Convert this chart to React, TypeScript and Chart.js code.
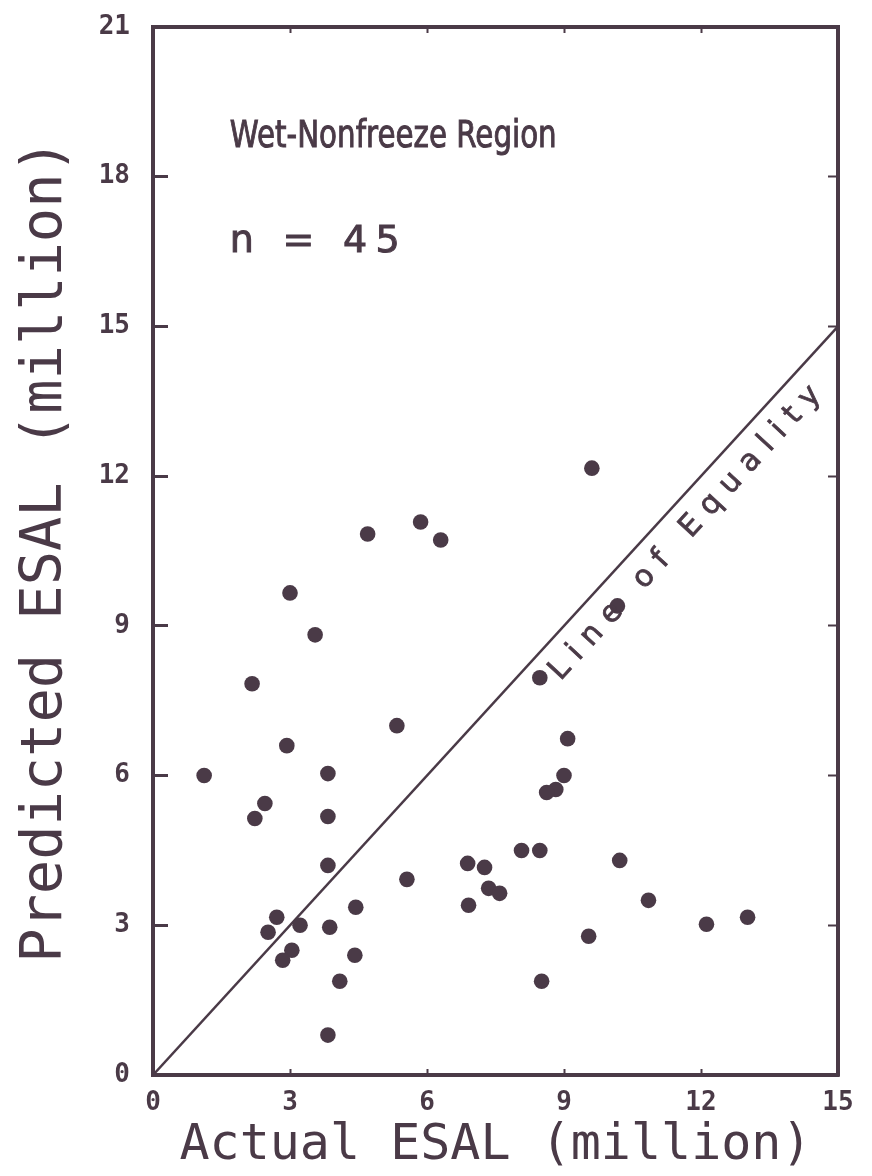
import React, { useEffect, useRef } from "react";
import { Chart, registerables } from "chart.js";

Chart.register(...registerables);

// ---- Data ----
const ACTUAL_ESAL = [
  1.12, 2.17, 2.23, 2.45, 2.93, 3.0, 3.55, 3.83, 3.83, 3.83,
  5.34, 4.7, 5.86, 6.3, 9.61, 10.17, 5.56, 4.44, 2.71, 3.22,
  3.87, 2.52, 3.04, 2.84, 4.42, 4.09, 3.83, 8.47, 9.08, 9.0,
  8.82, 8.62, 8.07, 8.47, 10.22, 6.89, 7.26, 7.35, 7.59, 6.91,
  10.85, 9.54, 12.12, 13.02, 8.51,
];
const PREDICTED_ESAL = [
  6.0, 7.84, 5.14, 5.44, 6.6, 9.66, 8.82, 6.04, 5.18, 4.2,
  7.0, 10.84, 11.08, 10.72, 12.16, 9.4, 3.92, 3.36, 3.16, 3.0,
  2.96, 2.86, 2.5, 2.3, 2.4, 1.88, 0.8, 7.96, 6.74, 6.0,
  5.72, 5.66, 4.5, 4.5, 4.3, 4.24, 4.16, 3.74, 3.64, 3.4,
  3.5, 2.78, 3.02, 3.16, 1.88,
];
const EQUALITY_LINE = [0, 15];
const X_TICKS = [0, 3, 6, 9, 12, 15];
const Y_TICKS = [0, 3, 6, 9, 12, 15, 18, 21];

const X_TITLE = "Actual ESAL (million)";
const Y_TITLE = "Predicted ESAL (million)";
const REGION_LABEL = "Wet-Nonfreeze Region";
const N_LABEL = "n = 45";
const LINE_LABEL = "Line of Equality";

const INK = "#4a3a47";
const MONO = '"DejaVu Sans Mono", monospace';

function drawScaled(ctx: CanvasRenderingContext2D, text: string, x: number, y: number, font: string, width: number) {
  ctx.save();
  ctx.font = font;
  ctx.textAlign = "left";
  ctx.textBaseline = "alphabetic";
  const w = ctx.measureText(text).width;
  ctx.translate(x, y);
  ctx.scale(width / w, 1);
  ctx.fillText(text, 0, 0);
  ctx.lineWidth = 1;
  ctx.strokeStyle = INK;
  ctx.strokeText(text, 0, 0);
  ctx.restore();
}

function setSpacing(ctx: any, text: string, width: number) {
  ctx.letterSpacing = "0px";
  const w = ctx.measureText(text).width;
  const ls = (width - w) / Math.max(1, text.length - 1);
  ctx.letterSpacing = ls + "px";
}

const annotationPlugin = {
  id: "esalAnnotations",
  afterDatasetsDraw(chart: any) {
    const { ctx } = chart;
    const x = chart.scales.x;
    const y = chart.scales.y;
    ctx.save();
    ctx.fillStyle = INK;
    ctx.strokeStyle = INK;

    drawScaled(ctx, REGION_LABEL, x.getPixelForValue(1.68), y.getPixelForValue(18.6), '37px "DejaVu Sans"', 327);

    ctx.save();
    ctx.font = '38px "DejaVu Sans"';
    ctx.textAlign = "left";
    ctx.textBaseline = "alphabetic";
    setSpacing(ctx, N_LABEL, 170);
    ctx.fillText(N_LABEL, x.getPixelForValue(1.68), y.getPixelForValue(16.5));
    ctx.lineWidth = 1;
    ctx.strokeText(N_LABEL, x.getPixelForValue(1.68), y.getPixelForValue(16.5));
    ctx.restore();

    const ax = x.getPixelForValue(EQUALITY_LINE[0]);
    const ay = y.getPixelForValue(EQUALITY_LINE[0]);
    const bx = x.getPixelForValue(EQUALITY_LINE[1]);
    const by = y.getPixelForValue(EQUALITY_LINE[1]);
    const ang = Math.atan2(by - ay, bx - ax);
    ctx.save();
    ctx.translate(x.getPixelForValue(11.3), y.getPixelForValue(11.3));
    ctx.rotate(ang);
    ctx.font = '30px "DejaVu Sans"';
    ctx.textAlign = "center";
    ctx.textBaseline = "middle";
    setSpacing(ctx, LINE_LABEL, 387);
    ctx.fillText(LINE_LABEL, 0, 27);
    ctx.lineWidth = 0.8;
    ctx.strokeText(LINE_LABEL, 0, 27);
    ctx.restore();

    ctx.restore();
  },
};

export default function App() {
  const ref = useRef<HTMLCanvasElement | null>(null);

  useEffect(() => {
    if (!ref.current) return;
    const points = ACTUAL_ESAL.map((v, i) => ({ x: v, y: PREDICTED_ESAL[i] }));
    const line = EQUALITY_LINE.map((v) => ({ x: v, y: v }));

    const chart = new Chart(ref.current, {
      type: "scatter",
      data: {
        datasets: [
          {
            label: "Sections",
            data: points,
            pointRadius: 7.8,
            pointHoverRadius: 7.8,
            backgroundColor: INK,
            borderWidth: 0,
            order: 0,
          },
          {
            type: "line",
            label: "Line of Equality",
            data: line,
            borderColor: INK,
            borderWidth: 2.5,
            pointRadius: 0,
            fill: false,
            order: 1,
          } as any,
        ],
      },
      options: {
        animation: false,
        responsive: false,
        layout: { padding: { top: 27, right: 34, left: 0, bottom: 0 } },
        plugins: {
          legend: { display: false },
          tooltip: { enabled: false },
        },
        scales: {
          x: {
            type: "linear",
            position: "bottom",
            min: 0,
            max: 15,
            afterBuildTicks: (s: any) => {
              s.ticks = X_TICKS.map((v) => ({ value: v }));
            },
            ticks: {
              font: { family: MONO, size: 26, weight: "bold" },
              color: INK,
              padding: 19,
              maxRotation: 0,
            },
            grid: { drawOnChartArea: false, drawTicks: true, tickLength: -6, tickWidth: 2, color: INK },
            border: { display: true, color: INK, width: 4 },
            title: {
              display: true,
              text: X_TITLE,
              font: { family: MONO, size: 50 },
              color: INK,
              padding: { top: 0, bottom: 0 },
            },
            afterFit: (s: any) => {
              s.height = 101;
              s.paddingLeft = 0;
              s.paddingRight = 0;
            },
          },
          y: {
            type: "linear",
            position: "left",
            min: 0,
            max: 21,
            afterBuildTicks: (s: any) => {
              s.ticks = Y_TICKS.map((v) => ({ value: v }));
            },
            ticks: {
              font: { family: MONO, size: 26, weight: "bold" },
              color: INK,
              padding: 38,
            },
            grid: { drawOnChartArea: false, drawTicks: true, tickLength: -15, tickWidth: 3, color: INK },
            border: { display: true, color: INK, width: 4 },
            title: {
              display: true,
              text: Y_TITLE,
              font: { family: MONO, size: 57 },
              color: INK,
              padding: { top: 12, bottom: 0 },
            },
            afterFit: (s: any) => {
              s.width = 153;
              s.paddingTop = 0;
              s.paddingBottom = 0;
            },
          },
          x2: {
            type: "linear",
            position: "top",
            min: 0,
            max: 15,
            afterBuildTicks: (s: any) => {
              s.ticks = X_TICKS.map((v) => ({ value: v }));
            },
            ticks: { display: false },
            grid: { drawOnChartArea: false, drawTicks: true, tickLength: -6, tickWidth: 2, color: INK },
            border: { display: true, color: INK, width: 4 },
            afterFit: (s: any) => {
              s.height = 0;
              s.paddingLeft = 0;
              s.paddingRight = 0;
            },
          },
          y2: {
            type: "linear",
            position: "right",
            min: 0,
            max: 21,
            afterBuildTicks: (s: any) => {
              s.ticks = Y_TICKS.map((v) => ({ value: v }));
            },
            ticks: { display: false },
            grid: { drawOnChartArea: false, drawTicks: true, tickLength: -10, tickWidth: 2, color: INK },
            border: { display: true, color: INK, width: 4 },
            afterFit: (s: any) => {
              s.width = 0;
              s.paddingTop = 0;
              s.paddingBottom = 0;
            },
          },
        },
      } as any,
      plugins: [annotationPlugin],
    });
    return () => chart.destroy();
  }, []);

  return (
    <div style={{ position: "fixed", left: 0, top: 0, width: 872, height: 1176, background: "#fff" }}>
      <canvas ref={ref} width={872} height={1176} style={{ display: "block" }} />
    </div>
  );
}
